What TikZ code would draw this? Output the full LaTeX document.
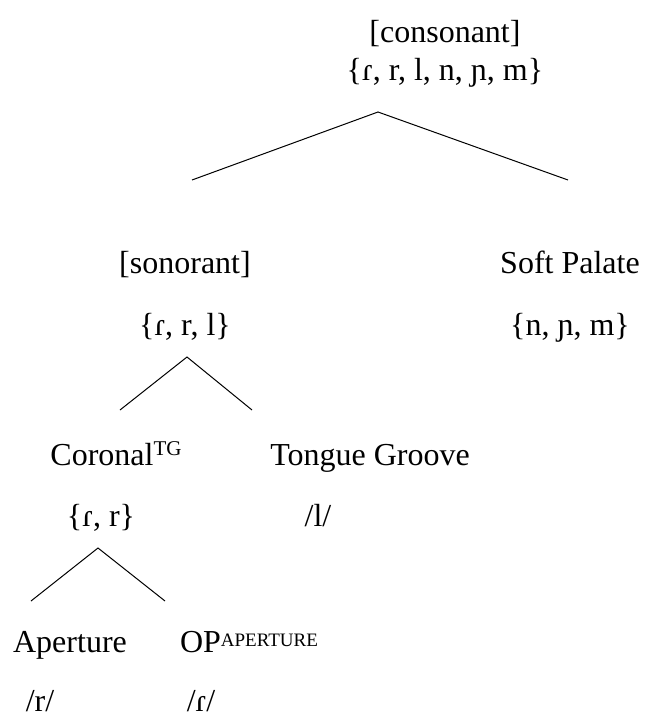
\documentclass[tikz,border=0pt]{standalone}
\usepackage{fontspec}
\setmainfont{Liberation Serif}
\usepackage{xcolor}

\begin{document}
\begin{tikzpicture}[x=1pt, y=-1pt,
    lbl/.style={inner sep=0pt, anchor=base, font=\fontsize{32}{36}\selectfont},
    branch/.style={line width=1pt}]
    \useasboundingbox (0,0) rectangle (667,717);

    % Уровни дерева (по базовой линии)
    \foreach \x/\y/\name/\txt in {
        445/43/cons/{[consonant]},
        445/81/consset/{\{ɾ, r, l, n, ɲ, m\}},
        185/273/son/{[sonorant]},
        570/273/soft/{Soft Palate},
        185/335/sonset/{\{ɾ, r, l\}},
        570/335/softset/{\{n, ɲ, m\}},
        370/465/tg/{Tongue Groove},
        101/526/corset/{\{ɾ, r\}},
        318/526/lat/{/l/},
        70/652/ap/{Aperture},
        40/711/trill/{/r/},
        201/711/tap/{/ɾ/}} {
        \node[lbl] (\name) at (\x,\y) {\txt};
    }
    \node[lbl] (cor) at (116,465) {Coronal\raisebox{10pt}{\fontsize{21}{21}\selectfont TG}};
    \node[lbl] (op) at (249,652) {OP\raisebox{6pt}{\fontsize{19}{20}\selectfont APERTURE}};

    % Точки ветвления
    \coordinate (c0) at (378,112);
    \coordinate (c1) at (192,180);
    \coordinate (c2) at (568,180);
    \coordinate (s0) at (187,357);
    \coordinate (s1) at (120,410);
    \coordinate (s2) at (252,410);
    \coordinate (k0) at (98,548);
    \coordinate (k1) at (31,601);
    \coordinate (k2) at (165,601);

    % Ветви
    \draw[branch] (c1) -- (c0) -- (c2);
    \draw[branch] (s1) -- (s0) -- (s2);
    \draw[branch] (k1) -- (k0) -- (k2);

\end{tikzpicture}
\end{document}
